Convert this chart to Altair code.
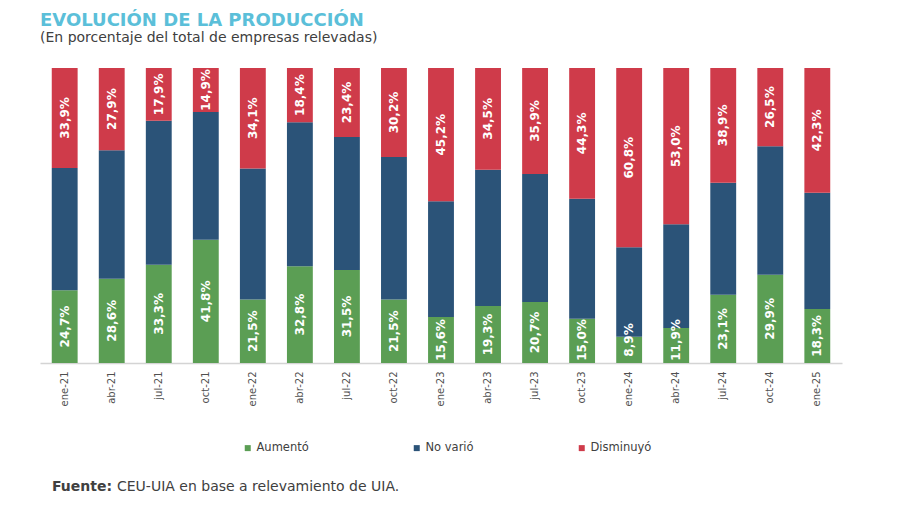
import altair as alt
import pandas as pd

periods = ["ene-21", "abr-21", "jul-21", "oct-21", "ene-22", "abr-22", "jul-22", "oct-22",
           "ene-23", "abr-23", "jul-23", "oct-23", "ene-24", "abr-24", "jul-24", "oct-24", "ene-25"]
aumento = [24.7, 28.6, 33.3, 41.8, 21.5, 32.8, 31.5, 21.5, 15.6, 19.3, 20.7, 15.0, 8.9, 11.9, 23.1, 29.9, 18.3]
disminuyo = [33.9, 27.9, 17.9, 14.9, 34.1, 18.4, 23.4, 30.2, 45.2, 34.5, 35.9, 44.3, 60.8, 53.0, 38.9, 26.5, 42.3]
series = ["Aumentó", "No varió", "Disminuyó"]
colors = ["#5b9e54", "#2b5378", "#cf3b4a"]

rows = []
for i, p in enumerate(periods):
    g = aumento[i]
    r = disminuyo[i]
    b = round(100 - g - r, 1)
    vals = [g, b, r]
    base = 0.0
    for k, s in enumerate(series):
        v = vals[k]
        lab = (f"{v:.1f}".replace(".", ",") + "%") if s != "No varió" else ""
        rows.append({"periodo": p, "serie": s, "orden": k, "valor": v,
                     "y0": base, "y1": base + v, "mid": base + v / 2, "label": lab})
        base += v
df = pd.DataFrame(rows)

FONT = "DejaVu Sans"

x_enc = alt.X("periodo:N", sort=periods, title=None,
              scale=alt.Scale(paddingInner=0.45, paddingOuter=0.25),
              axis=alt.Axis(labelAngle=270, labelFontSize=10, labelColor="#505050",
                            labelFont=FONT, ticks=False, domainColor="#d4d4d4",
                            domainWidth=1.5, labelPadding=8, labelAlign="right",
                            labelBaseline="middle"))
y_scale = alt.Scale(domain=[0, 100], nice=False)

bars = alt.Chart(df).mark_bar().encode(
    x=x_enc,
    y=alt.Y("y0:Q", scale=y_scale, axis=None),
    y2="y1:Q",
    color=alt.Color("serie:N", sort=series,
                    scale=alt.Scale(domain=series, range=colors),
                    legend=alt.Legend(title=None, orient="none", direction="horizontal",
                                      legendX=202, legendY=374, columns=3,
                                      columnPadding=102, symbolType="square",
                                      symbolSize=36, symbolStrokeWidth=0,
                                      labelFontSize=11.5, labelFont=FONT,
                                      labelColor="#404040", labelOffset=3)),
)

labels = alt.Chart(df[df["label"] != ""]).transform_calculate(
    pos="max(datum.mid, 7.8)"
).mark_text(
    angle=270, align="center", baseline="middle", color="white",
    fontWeight="bold", fontSize=12, font=FONT
).encode(
    x=alt.X("periodo:N", sort=periods),
    y=alt.Y("pos:Q", scale=y_scale),
    text="label:N",
)

footer_bold = alt.Chart(pd.DataFrame({"t": ["Fuente:"]})).mark_text(
    align="left", baseline="alphabetic", fontSize=14, fontWeight="bold",
    color="#404040", font=FONT
).encode(x=alt.value(12), y=alt.value(423), text="t:N")

footer_rest = alt.Chart(pd.DataFrame({"t": ["CEU-UIA en base a relevamiento de UIA."]})).mark_text(
    align="left", baseline="alphabetic", fontSize=14,
    color="#404040", font=FONT
).encode(x=alt.value(77), y=alt.value(423), text="t:N")

chart = alt.layer(bars, labels, footer_bold, footer_rest).properties(
    width=802, height=295,
    autosize=alt.AutoSizeParams(type="none"),
    padding={"left": 32, "top": 60, "right": 20, "bottom": 130},
    title=alt.TitleParams(
        text="EVOLUCIÓN DE LA PRODUCCIÓN",
        subtitle="(En porcentaje del total de empresas relevadas)",
        anchor="start", frame="group", offset=23,
        font=FONT, fontSize=18, fontWeight="bold", color="#5bbfd9",
        subtitleFont=FONT, subtitleFontSize=14, subtitleColor="#404040",
        subtitlePadding=1,
    ),
).configure_view(stroke=None).configure_axis(grid=False)

chart.save("out.html", embed_options={"renderer": "svg", "actions": False})
